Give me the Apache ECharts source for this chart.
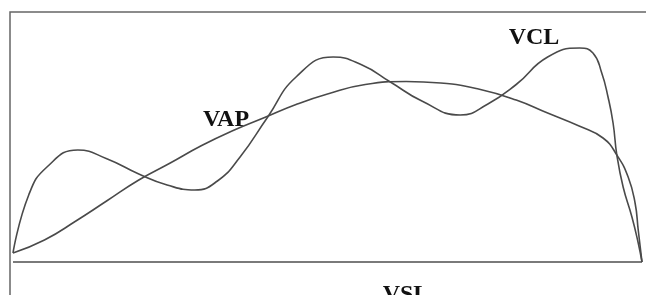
<!DOCTYPE html>
<html>
<head>
<meta charset="utf-8">
<script src="https://cdn.jsdelivr.net/npm/echarts@6/dist/echarts.min.js"></script>
<style>
  html, body { margin: 0; padding: 0; background: #fff; }
  #main { width: 646px; height: 295px; }
</style>
</head>
<body>
<div id="main"></div>
<script>
// track time (% of path) vs. velocity (relative units)
var vclPath = [
  [0, 3.6], [2.5, 26.8], [5.4, 38], [10.3, 44.8], [15, 41.2], [20, 35.2],
  [24.5, 30.8], [28.9, 28.8], [32.5, 32.4], [36.1, 42], [40.5, 58], [45, 74],
  [50.9, 82], [55.5, 78.8], [60, 72], [65, 64.4], [71.1, 58.8], [75.5, 63.2],
  [80, 71], [85, 82], [90.1, 85.6], [92.2, 83.6], [93.6, 75.6], [94.6, 66],
  [95.4, 55.6], [96, 42.8], [97, 30], [98.4, 18], [99.4, 7.6], [100, 0]
];
var vapPath = [
  [0, 3.6], [5, 8.8], [10, 16.4], [15, 24.6], [20, 32.8], [25, 39.6],
  [30, 46.6], [35, 52.6], [40, 57.8], [45, 63], [50, 67.2], [56, 71],
  [62.5, 72.2], [68, 71.6], [74, 69.2], [80, 64.8], [85, 59.6], [90, 54.4],
  [93.8, 49.6], [96, 42.8], [97.8, 34], [98.9, 23.6], [99.4, 12.8], [100, 0]
];
var vslPath = [[0, 0], [100, 0]];

var myChart = echarts.init(document.getElementById('main'));

var lineStyle = { color: '#4a4a4a', width: 1.6 };

var option = {
    backgroundColor: '#fff',
    animation: false,
    grid: { left: 13, right: 4, top: 12, bottom: 33 },
    xAxis: { type: 'value', min: 0, max: 100, show: false },
    yAxis: { type: 'value', min: 0, max: 100, show: false },
    graphic: [
        // frame (left + top edge)
        { type: 'polyline', shape: { points: [[10, 295], [10, 12], [646, 12]] },
          style: { stroke: '#666', lineWidth: 1.5, fill: null } },
        { type: 'text', x: 534, y: 38,
          style: { text: 'VCL', font: 'bold 24px "Liberation Serif"', fill: '#111', align: 'center', verticalAlign: 'middle' } },
        { type: 'text', x: 226, y: 120,
          style: { text: 'VAP', font: 'bold 24px "Liberation Serif"', fill: '#111', align: 'center', verticalAlign: 'middle' } },
        { type: 'text', x: 406, y: 295,
          style: { text: 'VSL', font: 'bold 24px "Liberation Serif"', fill: '#111', align: 'center', verticalAlign: 'middle' } }
    ],
    series: [
        { name: 'VSL', type: 'line', data: vslPath, symbol: 'none',
          lineStyle: { color: '#7a7a7a', width: 2.2 } },
        { name: 'VAP', type: 'line', data: vapPath, symbol: 'none',
          smooth: 0.5, lineStyle: lineStyle },
        { name: 'VCL', type: 'line', data: vclPath, symbol: 'none',
          smooth: 0.5, lineStyle: lineStyle }
    ]
};

myChart.setOption(option);
</script>
</body>
</html>
